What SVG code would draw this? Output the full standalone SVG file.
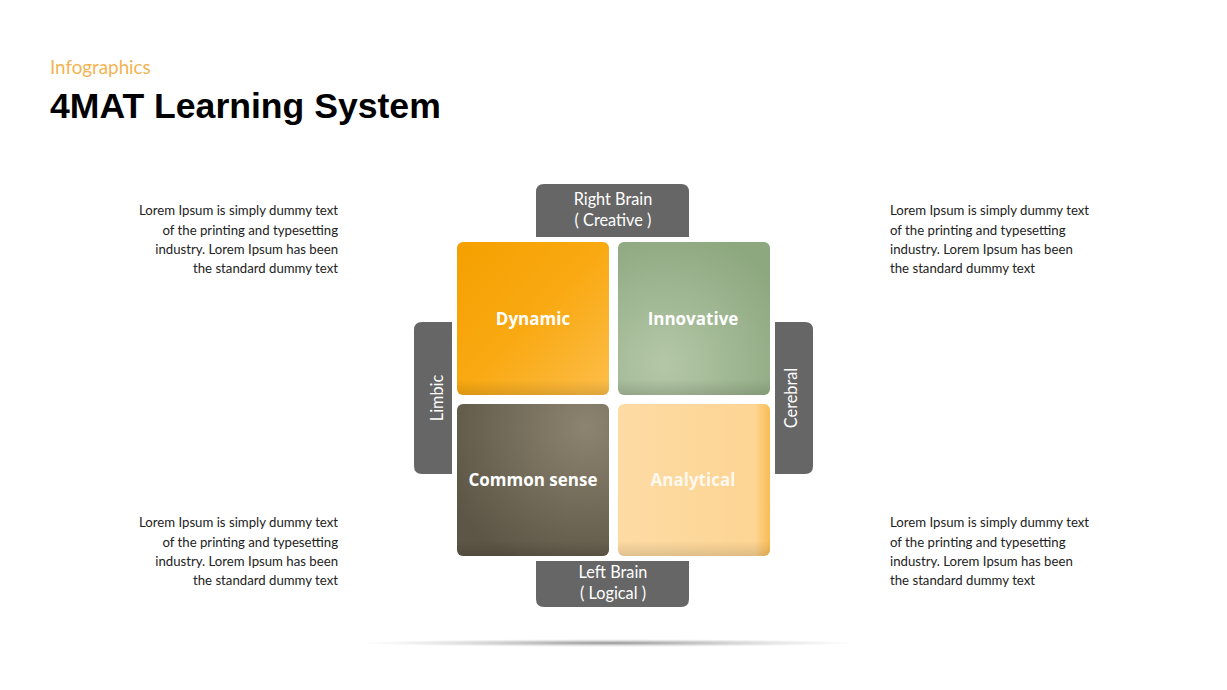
<svg xmlns="http://www.w3.org/2000/svg" width="1227" height="690" viewBox="0 0 1227 690">
<style>
.tab{fill:#666666}
.tabt{font-family:Lato,"Open Sans",sans-serif;font-size:16.3px;fill:#ffffff;text-anchor:middle}
.q{font-family:"Open Sans",Lato,sans-serif;font-size:17px;font-weight:bold;fill:#ffffff;text-anchor:middle}
.body{font-family:Lato,"Open Sans",sans-serif;font-size:13.2px;fill:#222222}
</style>
<defs>
<linearGradient id="gDyn" x1="0" y1="0" x2="1" y2="1">
<stop offset="0" stop-color="#F5A000"/><stop offset="0.5" stop-color="#F9A912"/><stop offset="1" stop-color="#FDBE4A"/>
</linearGradient>
<radialGradient id="gInn" cx="0.3" cy="0.8" r="0.9">
<stop offset="0" stop-color="#B4C8A8"/><stop offset="1" stop-color="#8DA77F"/>
</radialGradient>
<radialGradient id="gCom" cx="0.85" cy="0.15" r="1">
<stop offset="0" stop-color="#8C8470"/><stop offset="1" stop-color="#5D5545"/>
</radialGradient>
<linearGradient id="gAna" x1="0" y1="0" x2="1" y2="0">
<stop offset="0" stop-color="#FDDBA4"/><stop offset="0.9" stop-color="#FDD594"/><stop offset="1" stop-color="#F9BC55"/>
</linearGradient>
<linearGradient id="edgeB" x1="0" y1="0" x2="0" y2="1">
<stop offset="0.9" stop-color="#000" stop-opacity="0"/><stop offset="1" stop-color="#000" stop-opacity="0.12"/>
</linearGradient>
<radialGradient id="shadow" cx="0.5" cy="0.5" r="0.5">
<stop offset="0" stop-color="#888" stop-opacity="0.9"/><stop offset="1" stop-color="#bbb" stop-opacity="0"/>
</radialGradient>
</defs>
<rect width="1227" height="690" fill="#ffffff"/>
<g id="title">
<text x="50" y="74" font-family="Lato,'Open Sans',sans-serif" font-size="18.8" fill="#F2B450">Infographics</text>
<text x="50" y="118" font-family="'Liberation Sans',Arial,sans-serif" font-size="35.6" font-weight="bold" fill="#000000">4MAT Learning System</text>
</g>
<ellipse cx="610" cy="643" rx="250" ry="4" fill="url(#shadow)"/>
<g id="tab-top">
<path class="tab" d="M536 237 V192 Q536 184 544 184 H681 Q689 184 689 192 V237 Z"/>
<text class="tabt" x="613" y="205">Right Brain</text>
<text class="tabt" x="613" y="226">( Creative )</text>
</g>
<g id="tab-bottom">
<path class="tab" d="M536 561 H689 V599 Q689 607 681 607 H544 Q536 607 536 599 Z"/>
<text class="tabt" x="613" y="578">Left Brain</text>
<text class="tabt" x="613" y="599">( Logical )</text>
</g>
<g id="tab-left">
<path class="tab" d="M452 322 V474 H422 Q414 474 414 466 V330 Q414 322 422 322 Z"/>
<text class="tabt" transform="translate(443 398) rotate(-90)">Limbic</text>
</g>
<g id="tab-right">
<path class="tab" d="M775 322 H805 Q813 322 813 330 V466 Q813 474 805 474 H775 Z"/>
<text class="tabt" transform="translate(797 398) rotate(-90)">Cerebral</text>
</g>
<g id="dynamic">
<rect x="457" y="242" width="152" height="153" rx="6" fill="url(#gDyn)"/>
<rect x="457" y="242" width="152" height="153" rx="6" fill="url(#edgeB)"/>
<text class="q" x="533" y="325">Dynamic</text>
</g>
<g id="innovative">
<rect x="618" y="242" width="152" height="153" rx="6" fill="url(#gInn)"/>
<rect x="618" y="242" width="152" height="153" rx="6" fill="url(#edgeB)"/>
<text class="q" x="693" y="325">Innovative</text>
</g>
<g id="common-sense">
<rect x="457" y="404" width="152" height="152" rx="6" fill="url(#gCom)"/>
<rect x="457" y="404" width="152" height="152" rx="6" fill="url(#edgeB)"/>
<text class="q" x="533" y="486">Common sense</text>
</g>
<g id="analytical">
<rect x="618" y="404" width="152" height="152" rx="6" fill="url(#gAna)"/>
<rect x="618" y="404" width="152" height="152" rx="6" fill="url(#edgeB)"/>
<text class="q" x="693" y="486" fill-opacity="0.85">Analytical</text>
</g>
<g id="text-tl" class="body" text-anchor="end">
<text x="338" y="215">Lorem Ipsum is simply dummy text</text>
<text x="338" y="235">of the printing and typesetting</text>
<text x="338" y="254">industry. Lorem Ipsum has been</text>
<text x="338" y="273">the standard dummy text</text>
</g>
<g id="text-tr" class="body">
<text x="890" y="215">Lorem Ipsum is simply dummy text</text>
<text x="890" y="235">of the printing and typesetting</text>
<text x="890" y="254">industry. Lorem Ipsum has been</text>
<text x="890" y="273">the standard dummy text</text>
</g>
<g id="text-bl" class="body" text-anchor="end">
<text x="338" y="527">Lorem Ipsum is simply dummy text</text>
<text x="338" y="547">of the printing and typesetting</text>
<text x="338" y="566">industry. Lorem Ipsum has been</text>
<text x="338" y="585">the standard dummy text</text>
</g>
<g id="text-br" class="body">
<text x="890" y="527">Lorem Ipsum is simply dummy text</text>
<text x="890" y="547">of the printing and typesetting</text>
<text x="890" y="566">industry. Lorem Ipsum has been</text>
<text x="890" y="585">the standard dummy text</text>
</g>
</svg>
